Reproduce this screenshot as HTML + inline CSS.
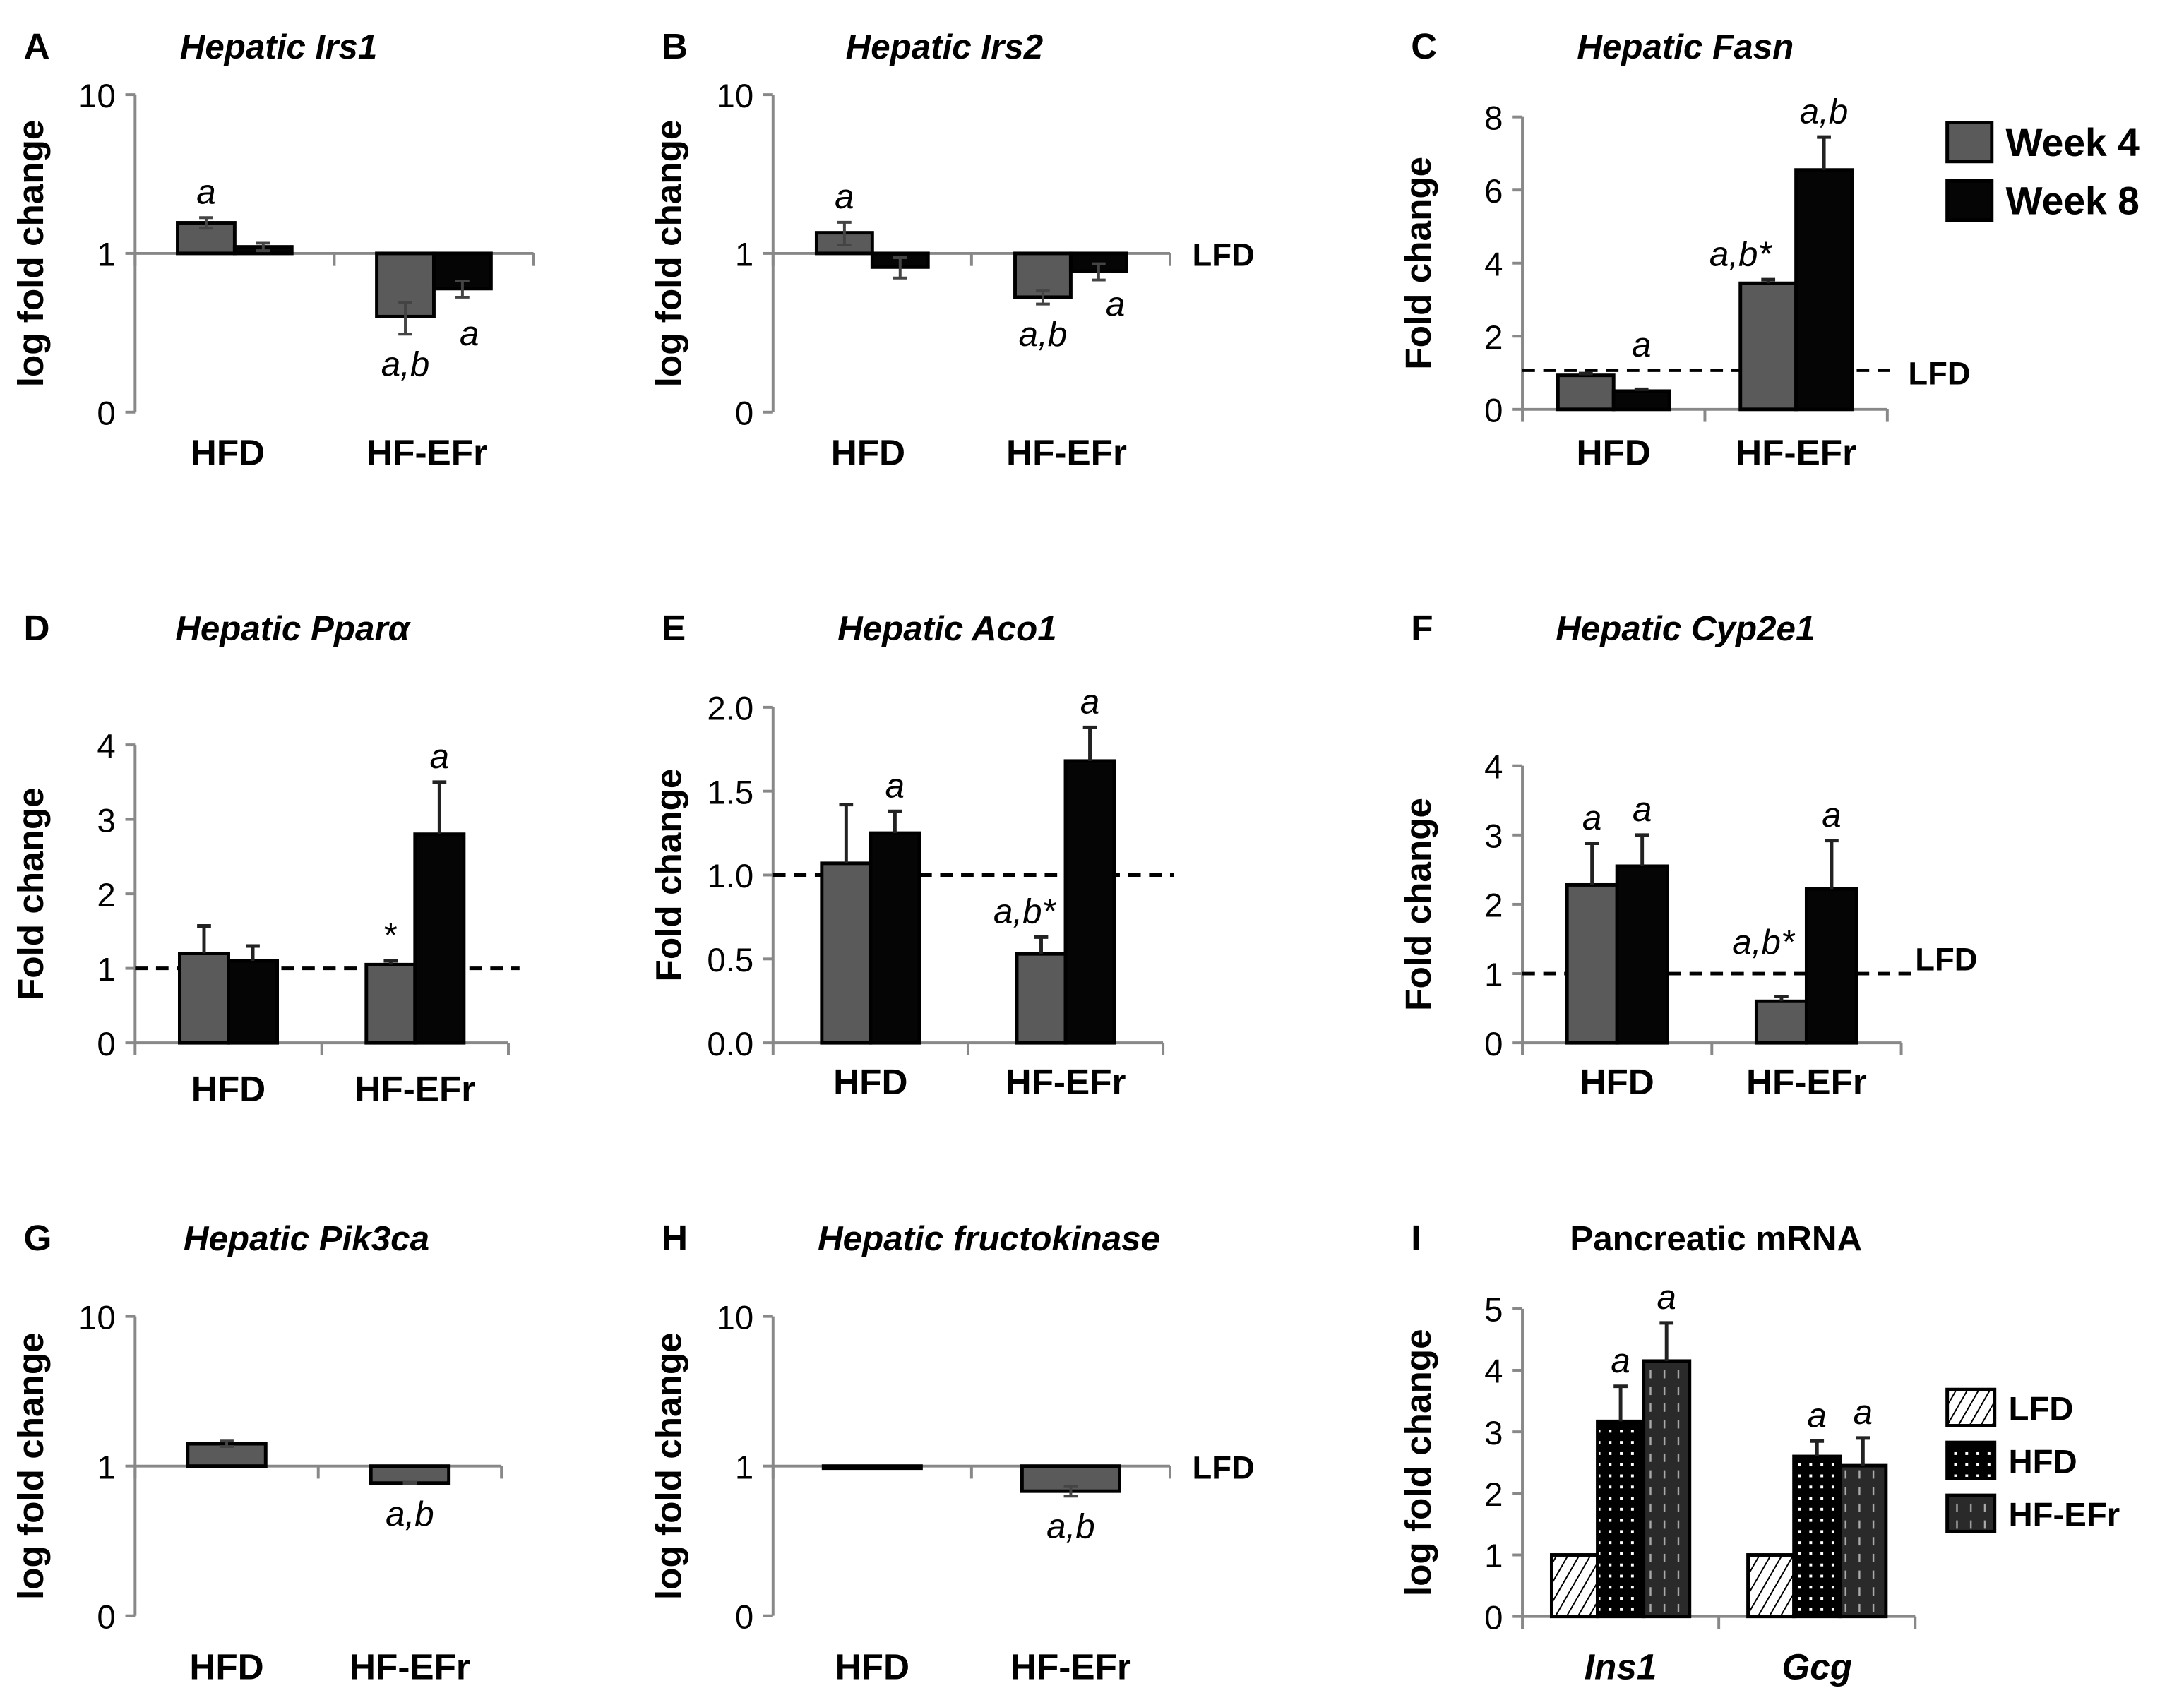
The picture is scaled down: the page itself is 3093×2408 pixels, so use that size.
<!DOCTYPE html>
<html><head><meta charset="utf-8"><style>
html,body{margin:0;padding:0;background:#fff;}
svg{display:block;}
text{font-family:"Liberation Sans",sans-serif;}
</style></head><body>
<svg id="fig" width="3093" height="2408" viewBox="0 0 1568 1221" preserveAspectRatio="none" xmlns="http://www.w3.org/2000/svg">
<defs>
<pattern id="pHatch" width="7" height="7" patternUnits="userSpaceOnUse" patternTransform="rotate(30)">
<rect width="7" height="7" fill="#fff"/><line x1="0" y1="0" x2="0" y2="7" stroke="#000" stroke-width="2"/></pattern>
<pattern id="pDots" width="8" height="8" patternUnits="userSpaceOnUse">
<rect width="8" height="8" fill="#000"/><rect x="3" y="3" width="2" height="2" fill="#fff"/></pattern>
<pattern id="pDash" width="10" height="12" patternUnits="userSpaceOnUse">
<rect width="10" height="12" fill="#2a2a2a"/><line x1="5" y1="0" x2="5" y2="6" stroke="#aaa" stroke-width="1.2"/></pattern>
</defs>
</svg>
<script>
// ---- data ----
const groupsHF = ["HFD","HF-EFr"];
const irs1W4 = [1.56, 0.40], irs1W8 = [1.1, 0.60], irs1E4 = [0.12, 0.09], irs1E8 = [0.06, 0.07];
const irs2W4 = [1.35, 0.53], irs2W8 = [0.82, 0.77], irs2E4 = [0.22, 0.05], irs2E8 = [0.12, 0.09];
const fasnW4 = [0.93, 3.45], fasnW8 = [0.5, 6.55], fasnE4 = [0.05, 0.1], fasnE8 = [0.05, 0.9];
const pparW4 = [1.2, 1.05], pparW8 = [1.1, 2.8], pparE4 = [0.37, 0.05], pparE8 = [0.2, 0.7];
const acoW4 = [1.07, 0.53], acoW8 = [1.25, 1.68], acoE4 = [0.35, 0.1], acoE8 = [0.13, 0.2];
const cypW4 = [2.28, 0.6], cypW8 = [2.55, 2.22], cypE4 = [0.6, 0.07], cypE8 = [0.45, 0.7];
const pikVal = [1.41, 0.77], pikErr = [0.06, 0.01];
const fkVal = [1.0, 0.68], fkErr = [0.0, 0.05];
const pancCats = ["Ins1","Gcg"];
const pancLFD = [1, 1], pancHFD = [3.17, 2.6], pancHFE = [4.15, 2.45];
const pancHFDErr = [0.57, 0.25], pancHFEErr = [0.62, 0.45];
const logTicks = ["10","1","0"];
const tickC = [0,2,4,6,8], tickD = [0,1,2,3,4], tickE = ["0.0","0.5","1.0","1.5","2.0"], tickF = [0,1,2,3,4], tickI = [0,1,2,3,4,5];

const svg = document.getElementById('fig');
const NS = "http://www.w3.org/2000/svg";
function el(tag, attrs, parent, txt){
  const e = document.createElementNS(NS, tag);
  for (const k in attrs) e.setAttribute(k, attrs[k]);
  if (txt !== undefined) e.textContent = txt;
  (parent || svg).appendChild(e);
  return e;
}
function txt(x,y,s,size,opts,parent){
  const t = el('text',{x:x,y:y,'font-size':size,'text-anchor':(opts&&opts.anchor)||'middle','font-weight':(opts&&opts.bold===false)?'normal':'bold','font-style':(opts&&opts.italic)?'italic':'normal',fill:'#000'},parent,s);
  if (opts && opts.rot) t.setAttribute('transform','rotate(-90 '+x+' '+y+')');
  return t;
}

function panel(p){
  const g = el('g',{});
  
  
  const ys = p.log ? (v => p.y1 - Math.log10(v) * p.dec) : (v => p.y0 - v * p.k);
  const L = txt(p.ax - 80, p.ty, p.letter, 26, {anchor:'start'}, g);
   
  const T = txt(p.titleX, p.ty, p.title, 25, {italic: p.titleItalic !== false}, g);
   
  const yTop = p.log ? ys(10) : ys(p.ticks[p.ticks.length-1]*1);
  const yBot = p.log ? ys(0.1) : ys(0);
  const axisY = el('line',{x1:p.ax,y1:yTop,x2:p.ax,y2:yBot,stroke:'#888','stroke-width':2},g);
   
  const tv = p.log ? [10,1,0.1] : p.ticks.map(Number);
  tv.forEach((v,i)=>{
    const y = ys(v);
    el('line',{x1:p.ax-7,y1:y,x2:p.ax,y2:y,stroke:'#888','stroke-width':2},g);
    const t = txt(p.ax-14, y+9, p.log ? logTicks[i] : String(p.ticks[i]), 24, {anchor:'end', bold:false}, g);
     
  });
  const yl = txt(p.ax-66, (yTop+yBot)/2, (p.log || p.logLabel) ? 'log fold change' : 'Fold change', 26, {rot:true}, g);
   
  const xY = p.log ? ys(1) : ys(0);
  const xa = el('line',{x1:p.ax,y1:xY,x2:p.xEnd,y2:xY,stroke:'#888','stroke-width':2},g);
   
  const mid = (p.ax + p.xEnd)/2;
  [mid, p.xEnd].forEach(x=>el('line',{x1:x,y1:xY,x2:x,y2:xY+9,stroke:'#888','stroke-width':2},g));
  el('line',{x1:p.ax,y1:xY,x2:p.ax,y2:xY+9,stroke:'#888','stroke-width':2},g);
  if (p.dash){
    const d = el('line',{x1:p.ax,y1:ys(p.dash),x2:p.xEnd+8,y2:ys(p.dash),stroke:'#000','stroke-width':2.5,'stroke-dasharray':'9,6'},g);
     
  }
  if (p.lfdLabel){
    const ll = txt(p.xEnd+16, ys(1)+9, 'LFD', 23, {anchor:'start'}, g);
     
  }
  const half = (p.xEnd - p.ax)/2;
  p.cats.forEach((c,ci)=>{
    const cx = p.ax + half*ci + half/2 + (p.shift||0);
    const cl = txt(cx + (p.catDx||0), p.catY, c, 26, {italic: !!p.catItalic}, g);
     
    const n = p.series.length, bw = p.bw;
    p.series.forEach((s,si)=>{
      const v = s.vals[ci];
      const x = cx - n*bw/2 + si*bw;
      const base = xY, top = ys(v);
      const r = el('rect',{x:x,y:Math.min(base,top),width:bw,height:Math.max(1.5,Math.abs(top-base)),fill:s.fill,stroke:'#000','stroke-width':2.5},g);
      
      
      const e = s.err ? s.err[ci] : 0;
      const bx = x + bw/2;
      let labY;
      if (e > 0){
        const up = v >= (p.log ? 1 : 0);
        const eCol = p.log ? '#444' : '#222';
        if (p.log){
          const y1 = ys(v+e), y2 = ys(Math.max(0.011, v-e));
          const eb = el('path',{d:`M${bx} ${y1}V${y2}M${bx-5} ${y1}h10M${bx-5} ${y2}h10`,stroke:eCol,'stroke-width':2,fill:'none'},g);
           
          labY = up ? y1 - 10 : y2 + 30;
        } else {
          const y1 = ys(v+e);
          const eb = el('path',{d:`M${bx} ${top}V${y1}M${bx-5} ${y1}h10`,stroke:eCol,'stroke-width':2.5,fill:'none'},g);
           
          labY = y1 - 10;
        }
      } else {
        labY = (v >= (p.log?1:0)) ? top - 10 : top + 30;
      }
      const a = s.ann ? s.ann[ci] : '';
      if (a){
        const ay = (s.annY && s.annY[ci]) ? s.annY[ci] : labY;
        const ax = bx + ((s.annDx && s.annDx[ci]) || 0);
        const at = txt(ax, ay, a, 25, {italic: a !== '*', bold:false}, g);
         
      }
    });
  });
  return g;
}
const G4 = '#5a5a5a', G8 = '#050505';
panel({name:'panel-a-irs1',letter:'A',title:'Hepatic Irs1',titleX:200,ty:42,log:true,y1:182,dec:114,ax:97,xEnd:383,bw:41,cats:groupsHF,catY:334,catDx:-5,
  series:[{key:'week4',fill:G4,vals:irs1W4,err:irs1E4,ann:['a','a,b']},{key:'week8',fill:G8,vals:irs1W8,err:irs1E8,ann:['','a'],annY:[0,248],annDx:[0,5]}]});
panel({name:'panel-b-irs2',letter:'B',title:'Hepatic Irs2',titleX:678,ty:42,log:true,y1:182,dec:114,ax:555,xEnd:840,bw:40,lfdLabel:true,cats:groupsHF,catY:334,catDx:-3,
  series:[{key:'week4',fill:G4,vals:irs2W4,err:irs2E4,ann:['a','a,b']},{key:'week8',fill:G8,vals:irs2W8,err:irs2E8,ann:['','a'],annY:[0,227],annDx:[0,12]}]});
panel({name:'panel-c-fasn',letter:'C',title:'Hepatic Fasn',titleX:1210,ty:42,log:false,y0:294,k:26.25,ticks:tickC,ax:1093,xEnd:1355,bw:40,dash:1.07,lfdLabel:false,cats:groupsHF,catY:334,
  series:[{key:'week4',fill:G4,vals:fasnW4,err:fasnE4,ann:['','a,b*'],annDx:[0,-20]},{key:'week8',fill:G8,vals:fasnW8,err:fasnE8,ann:['a','a,b'],annY:[256,0]}]});
panel({name:'panel-d-ppara',letter:'D',title:'Hepatic Pparα',titleX:210,ty:460,log:false,y0:749,k:53.5,ticks:tickD,ax:97,xEnd:365,bw:35,dash:1,cats:groupsHF,catY:791,
  series:[{key:'week4',fill:G4,vals:pparW4,err:pparE4,ann:['','*']},{key:'week8',fill:G8,vals:pparW8,err:pparE8,ann:['','a']}]});
panel({name:'panel-e-aco1',letter:'E',title:'Hepatic Aco1',titleX:680,ty:460,log:false,y0:749,k:120.5,ticks:tickE,ax:555,xEnd:835,bw:35,dash:1,cats:groupsHF,catY:786,
  series:[{key:'week4',fill:G4,vals:acoW4,err:acoE4,ann:['','a,b*'],annDx:[0,-12]},{key:'week8',fill:G8,vals:acoW8,err:acoE8,ann:['a','a']}]});
panel({name:'panel-f-cyp2e1',letter:'F',title:'Hepatic Cyp2e1',titleX:1210,ty:460,log:false,y0:749,k:49.75,ticks:tickF,ax:1093,xEnd:1365,bw:36,dash:1,cats:groupsHF,catY:786,
  series:[{key:'week4',fill:G4,vals:cypW4,err:cypE4,ann:['a','a,b*'],annY:[0,685],annDx:[0,-13]},{key:'week8',fill:G8,vals:cypW8,err:cypE8,ann:['a','a']}]});
const lf1 = el('text',{x:1375,y:697,'font-size':23,'font-weight':'bold','font-family':'Liberation Sans'},svg,'LFD');


const lf2 = el('text',{x:1370,y:276,'font-size':23,'font-weight':'bold','font-family':'Liberation Sans'},svg,'LFD');


panel({name:'panel-g-pik3ca',letter:'G',title:'Hepatic Pik3ca',titleX:220,ty:898,log:true,y1:1053,dec:107.5,ax:97,xEnd:360,bw:56,cats:groupsHF,catY:1206,
  series:[{key:'hfd-vs-lfd',fill:G4,vals:pikVal,err:pikErr,ann:['','a,b']}]});
panel({name:'panel-h-fructokinase',letter:'H',title:'Hepatic fructokinase',titleX:710,ty:898,log:true,y1:1053,dec:107.5,ax:555,xEnd:840,bw:70,lfdLabel:true,cats:groupsHF,catY:1206,
  series:[{key:'hfd-vs-lfd',fill:G4,vals:fkVal,err:fkErr,ann:['','a,b']}]});
panel({name:'panel-i-pancreatic',letter:'I',title:'Pancreatic mRNA',titleX:1232,ty:898,titleItalic:false,logLabel:true,log:false,y0:1161,k:44.2,ticks:tickI,ax:1093,xEnd:1375,bw:33,cats:pancCats,catY:1206,catItalic:true,
  series:[{key:'lfd',fill:'url(#pHatch)',vals:pancLFD,err:[0,0],ann:['','']},{key:'hfd',fill:'url(#pDots)',vals:pancHFD,err:pancHFDErr,ann:['a','a']},{key:'hf-efr',fill:'url(#pDash)',vals:pancHFE,err:pancHFEErr,ann:['a','a']}]});

function legendEntry(x,y,w,h,fill,label,size,name){
  const g = el('g',{});
  
  
  el('rect',{x:x,y:y,width:w,height:h,fill:fill,stroke:'#000','stroke-width':2.5},g);
  txt(x+w+10, y+h-4, label, size, {anchor:'start'}, g);
}
legendEntry(1398,88,32,28,G4,'Week 4',28,'legend-entry-week4');
legendEntry(1398,130,32,28,G8,'Week 8',28,'legend-entry-week8');
legendEntry(1398,998,34,26,'url(#pHatch)','LFD',24,'legend-entry-lfd');
legendEntry(1398,1036,34,26,'url(#pDots)','HFD',24,'legend-entry-hfd');
legendEntry(1398,1074,34,26,'url(#pDash)','HF-EFr',24,'legend-entry-hf-efr');
</script>
</body></html>
